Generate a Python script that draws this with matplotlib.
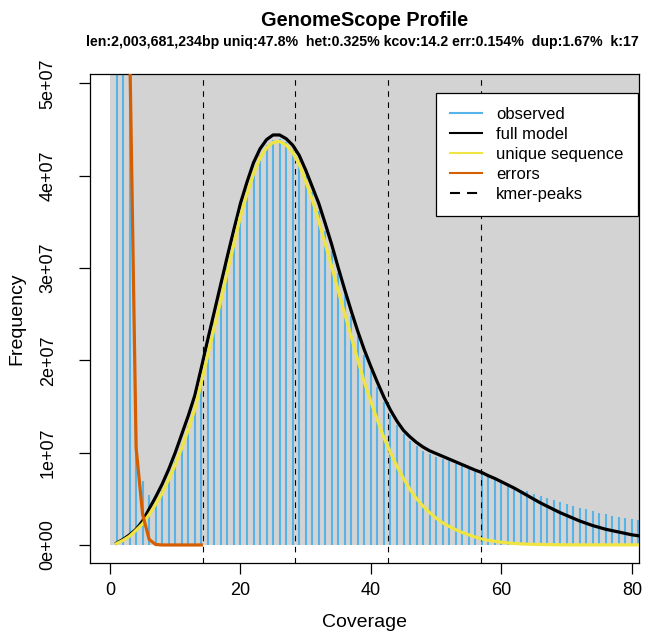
import matplotlib
matplotlib.use("Agg")
import matplotlib.pyplot as plt
from matplotlib.lines import Line2D
from matplotlib.patches import Rectangle

plt.rcParams['font.family'] = ['Liberation Sans', 'DejaVu Sans']

# k-mer coverage 1..81
coverage = list(range(1, 82))

# observed k-mer frequencies (millions)
observed = [400, 150, 56, 12.5, 6.9, 5.4, 4.7, 5.9, 7.4, 9.1,
            10.9, 12.9, 15.1, 18.0, 21.1, 24.1, 27.0, 30.1, 33.1, 36.0,
            38.4, 40.6, 42.2, 43.3, 43.9, 44.0, 43.6, 42.8, 41.6, 40.0,
            38.2, 36.2, 34.0, 31.8, 29.4, 27.1, 24.8, 22.6, 20.6, 18.8,
            17.1, 15.5, 14.1, 13.0, 12.0, 11.3, 10.7, 10.2, 9.85, 9.55,
            9.3, 9.05, 8.8, 8.55, 8.25, 7.95, 7.65, 7.4, 7.1, 6.8,
            6.5, 6.2, 6.0, 5.85, 5.55, 5.25, 5.05, 4.85, 4.65, 4.45,
            4.2, 4.0, 3.85, 3.7, 3.5, 3.3, 3.15, 3.0, 2.9, 2.8, 2.7]

# full model (millions)
full_model = [0.2, 0.6, 1.1, 1.7, 2.6, 3.9, 5.2, 6.6, 8.2, 10.0,
              12.0, 14.0, 16.2, 19.2, 22.3, 25.3, 28.3, 31.3, 34.2, 37.0,
              39.3, 41.4, 42.9, 43.9, 44.4, 44.4, 44.0, 43.3, 42.2, 40.6,
              38.8, 37.0, 34.8, 32.5, 30.0, 27.6, 25.3, 23.1, 21.1, 19.3,
              17.6, 16.0, 14.6, 13.4, 12.4, 11.7, 11.1, 10.6, 10.2, 9.9,
              9.6, 9.3, 9.0, 8.7, 8.4, 8.1, 7.85, 7.5, 7.2, 6.85,
              6.5, 6.15, 5.75, 5.35, 4.95, 4.55, 4.2, 3.85, 3.5, 3.2,
              2.9, 2.6, 2.35, 2.1, 1.9, 1.7, 1.55, 1.4, 1.25, 1.1, 1.0]

# unique sequence (millions)
unique_seq = [0.15, 0.5, 0.95, 1.6, 2.3, 3.3, 4.4, 5.6, 7.1, 8.7,
              10.5, 12.5, 14.7, 17.6, 20.6, 23.6, 26.5, 29.6, 32.6, 35.6,
              38.0, 40.2, 41.9, 43.0, 43.6, 43.7, 43.3, 42.5, 41.2, 39.4,
              37.4, 35.1, 32.6, 30.1, 27.5, 25.0, 22.5, 20.0, 17.6, 15.5,
              13.5, 11.6, 10.0, 8.5, 7.2, 6.0, 5.0, 4.2, 3.5, 2.9,
              2.4, 2.0, 1.65, 1.35, 1.1, 0.85, 0.65, 0.5, 0.4, 0.3,
              0.22, 0.16, 0.12, 0.09, 0.07, 0.05, 0.04, 0.03, 0.02, 0.015,
              0.01, 0.01, 0.01, 0.01, 0.01, 0.01, 0.01, 0.01, 0.01, 0.01, 0.01]

# errors, coverage 1..14 (millions)
error_cov = list(range(1, 15))
errors = [300, 120, 55, 10.5, 3.3, 0.6, 0.05, 0, 0, 0, 0, 0, 0, 0]

kmer_peaks = [14.2, 28.4, 42.6, 56.8]

title = "GenomeScope Profile"
subtitle = ("len:2,003,681,234bp uniq:47.8%  het:0.325% kcov:14.2 "
            "err:0.154%  dup:1.67%  k:17")

M = 1e6
fig = plt.figure(figsize=(6.47, 6.31), dpi=100)
ax = fig.add_axes([90 / 647, 1 - 562.7 / 631, 549 / 647, 488.4 / 631])

ax.add_patch(Rectangle((0, 0), 1000, 1e10, facecolor='#D3D3D3',
                       edgecolor='none', zorder=0))

ax.vlines(coverage, 0, [v * M for v in observed], colors='#56B4E9',
          lw=1.5, zorder=1)
ax.plot(coverage, [v * M for v in full_model], color='black', lw=2.3,
        zorder=3, solid_joinstyle='round')
ax.plot(coverage, [v * M for v in unique_seq], color='#F0E442', lw=2.3,
        zorder=4, solid_joinstyle='round')
ax.plot(error_cov, [v * M for v in errors], color='#D55E00', lw=2.3,
        zorder=5, solid_joinstyle='round')
for p in kmer_peaks:
    ax.axvline(p, color='black', lw=0.8, ls=(0, (5, 5)), zorder=2)

ax.set_xlim(-3.07, 81.1)
ax.set_ylim(-1.92e6, 50.97e6)

ax.set_xticks([0, 20, 40, 60, 80])
yt = [0, 1e7, 2e7, 3e7, 4e7, 5e7]
ax.set_yticks(yt)
ax.set_yticklabels(["0e+00", "1e+07", "2e+07", "3e+07", "4e+07", "5e+07"],
                   rotation=90, va='center')
ax.tick_params(length=8, width=0.9, labelsize=13)
ax.tick_params(axis='x', pad=6)
ax.tick_params(axis='y', pad=16)
for s in ax.spines.values():
    s.set_linewidth(0.9)

ax.set_xlabel("Coverage", fontsize=14, labelpad=11)
ax.set_ylabel("Frequency", fontsize=14, labelpad=10)

fig.text(364.5 / 647, 1 - 20 / 631, title, ha='center', va='center',
         fontsize=14.4, fontweight='bold')
fig.text(362 / 647, 1 - 42 / 631, subtitle, ha='center', va='center',
         fontsize=10.2, fontweight='bold')

handles = [
    Line2D([], [], color='#56B4E9', lw=1.5),
    Line2D([], [], color='black', lw=1.5),
    Line2D([], [], color='#F0E442', lw=1.5),
    Line2D([], [], color='#D55E00', lw=1.5),
    Line2D([], [], color='black', lw=1.5, ls=(0, (4.8, 3.4))),
]
labels = ["observed", "full model", "unique sequence", "errors", "kmer-peaks"]
leg = ax.legend(handles, labels, loc='upper right',
                bbox_to_anchor=(0.998, 0.9623), borderaxespad=0,
                fontsize=12, fancybox=False, framealpha=1,
                edgecolor='black', handlelength=1.92, handletextpad=0.88,
                labelspacing=0.3, borderpad=0.85)
leg.get_frame().set_linewidth(0.9)

fig.savefig("out.png", dpi=100)
